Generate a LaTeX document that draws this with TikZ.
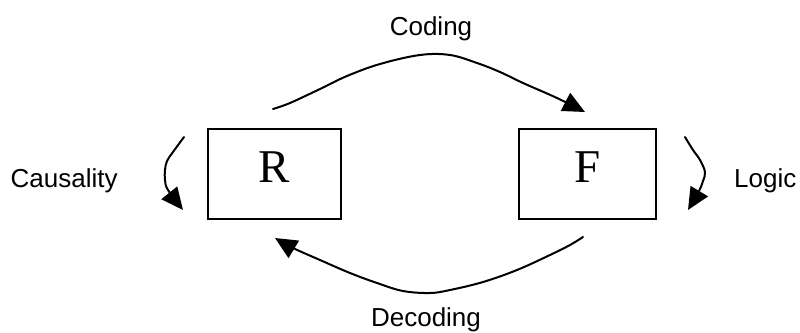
\documentclass[tikz,border=0pt]{standalone}
\usepackage{fontspec}
\setmainfont{Liberation Serif}
\newfontfamily\labelfont{Liberation Sans}
\usetikzlibrary{arrows.meta}

\tikzset{
  box/.style={draw, line width=2pt, minimum width=133pt, minimum height=90pt,
    inner sep=0pt, text depth=14pt, font=\fontsize{47}{50}\selectfont},
  caption/.style={anchor=base, inner sep=0pt, font=\labelfont\fontsize{26}{30}\selectfont},
  flow/.style={line width=2pt, line cap=round, line join=round,
    -{Triangle[length=22pt,width=20pt]}},
}

\begin{document}
\begin{tikzpicture}[x=1pt, y=-1pt]
  \useasboundingbox (0,0) rectangle (800,332);

  % the two boxes
  \node[box] (R) at (274.5,174) {R};
  \node[box, minimum width=137pt] (F) at (587.5,174) {F};

  % labels
  \node[caption] (coding) at (431,35) {Coding};
  \node[caption] (decoding) at (426,326) {Decoding};
  \node[caption, anchor=base west] (causality) at (10.5,187) {Causality};
  \node[caption, anchor=base west] (logic) at (734,187) {Logic};

  % loose ends of the arrows
  \coordinate (codeS) at (273,109);
  \coordinate (codeE) at (585,112);
  \coordinate (decS) at (583,237);
  \coordinate (decE) at (275,238);
  \coordinate (causS) at (184,137);
  \coordinate (causE) at (183,210);
  \coordinate (logS) at (685,137);
  \coordinate (logE) at (688,210);

  % Coding: R to F over the top
  \draw[flow] plot[smooth, tension=0.6] coordinates
    {(codeS) (290,103) (320,89) (347,76) (380,64) (420,55) (450,55)
     (477,63) (500,72) (523,83) (557,98) (codeE)};

  % Decoding: F back to R underneath
  \draw[flow] plot[smooth, tension=0.6] coordinates
    {(decS) (570,245) (550,255) (517,270) (483,282) (450,290) (430,293)
     (403,291) (377,283) (350,273) (320,260) (293,248) (decE)};

  % Causality loop at the left of R
  \draw[flow] plot[smooth, tension=0.6] coordinates
    {(causS) (173,152) (167,161) (165,170) (165,180) (168,190) (causE)};

  % Logic loop at the right of F
  \draw[flow] plot[smooth, tension=0.6] coordinates
    {(logS) (693,150) (700,160) (705,172) (703,181) (699,191) (logE)};
\end{tikzpicture}
\end{document}
